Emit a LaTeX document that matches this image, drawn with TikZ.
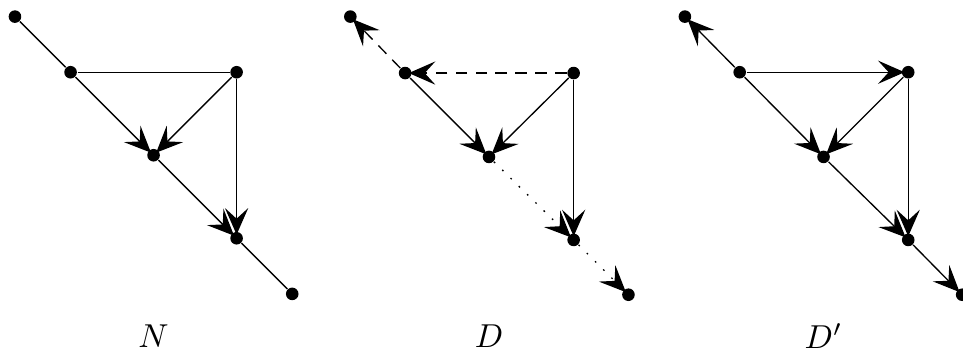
\documentclass[tikz,border=0pt]{standalone}
\usepackage{amsmath,amssymb}
\usetikzlibrary{arrows.meta}

\begin{document}
\begin{tikzpicture}[x=0.88cm,y=0.88cm,
    dot/.style={circle,fill,inner sep=0pt,minimum size=3.8pt},
    arr/.style={-{Stealth[length=8pt,width=7pt,inset=3.2pt]},shorten >=-1pt},
    dotline/.style={dash pattern=on 0.5pt off 3pt}]
        \useasboundingbox (0,0) rectangle (11.60,4.24);
        % Graphe N
        \node[dot] (Na) at (0.18,4.04) {};
        \node[dot] (Nb) at (0.85,3.37) {};
        \node[dot] (Nc) at (2.85,3.37) {};
        \node[dot] (Nd) at (1.85,2.37) {};
        \node[dot] (Ne) at (2.85,1.37) {};
        \node[dot] (Nf) at (3.52,0.70) {};
        \draw (Na) -- (Nb);
        \draw (Nb) -- (Nc);
        \draw[arr] (Nb) -- (Nd);
        \draw[arr] (Nc) -- (Nd);
        \draw[arr] (Nc) -- (Ne);
        \draw[arr] (Nd) -- (Ne);
        \draw (Ne) -- (Nf);
        \node[inner sep=0pt] (labN) at (1.85,0.19) {$N$};
        % Graphe D
        \node[dot] (Da) at (4.22,4.04) {};
        \node[dot] (Db) at (4.88,3.36) {};
        \node[dot] (Dc) at (6.91,3.36) {};
        \node[dot] (Dd) at (5.89,2.35) {};
        \node[dot] (De) at (6.91,1.35) {};
        \node[dot] (Df) at (7.57,0.69) {};
        \draw[arr,dash pattern=on 3.5pt off 2.5pt] (Db) -- (Da);
        \draw[arr,dash pattern=on 3.5pt off 2.5pt] (Dc) -- (Db);
        \draw[arr] (Db) -- (Dd);
        \draw[arr] (Dc) -- (Dd);
        \draw[arr] (Dc) -- (De);
        \draw[arr,dotline] (Dd) -- (De);
        \draw[arr,dotline] (De) -- (Df);
        \node[inner sep=0pt] (labD) at (5.89,0.19) {$D$};
        % Graphe D'
        \node[dot] (Ea) at (8.25,4.04) {};
        \node[dot] (Eb) at (8.91,3.37) {};
        \node[dot] (Ec) at (10.94,3.37) {};
        \node[dot] (Ed) at (9.92,2.35) {};
        \node[dot] (Ee) at (10.94,1.35) {};
        \node[dot] (Ef) at (11.59,0.69) {};
        \draw[arr] (Eb) -- (Ea);
        \draw[arr] (Eb) -- (Ec);
        \draw[arr] (Eb) -- (Ed);
        \draw[arr] (Ec) -- (Ed);
        \draw[arr] (Ec) -- (Ee);
        \draw[arr] (Ed) -- (Ee);
        \draw[arr] (Ee) -- (Ef);
        \node[inner sep=0pt] (labE) at (9.92,0.19) {$D'$};
    \end{tikzpicture}
\end{document}
